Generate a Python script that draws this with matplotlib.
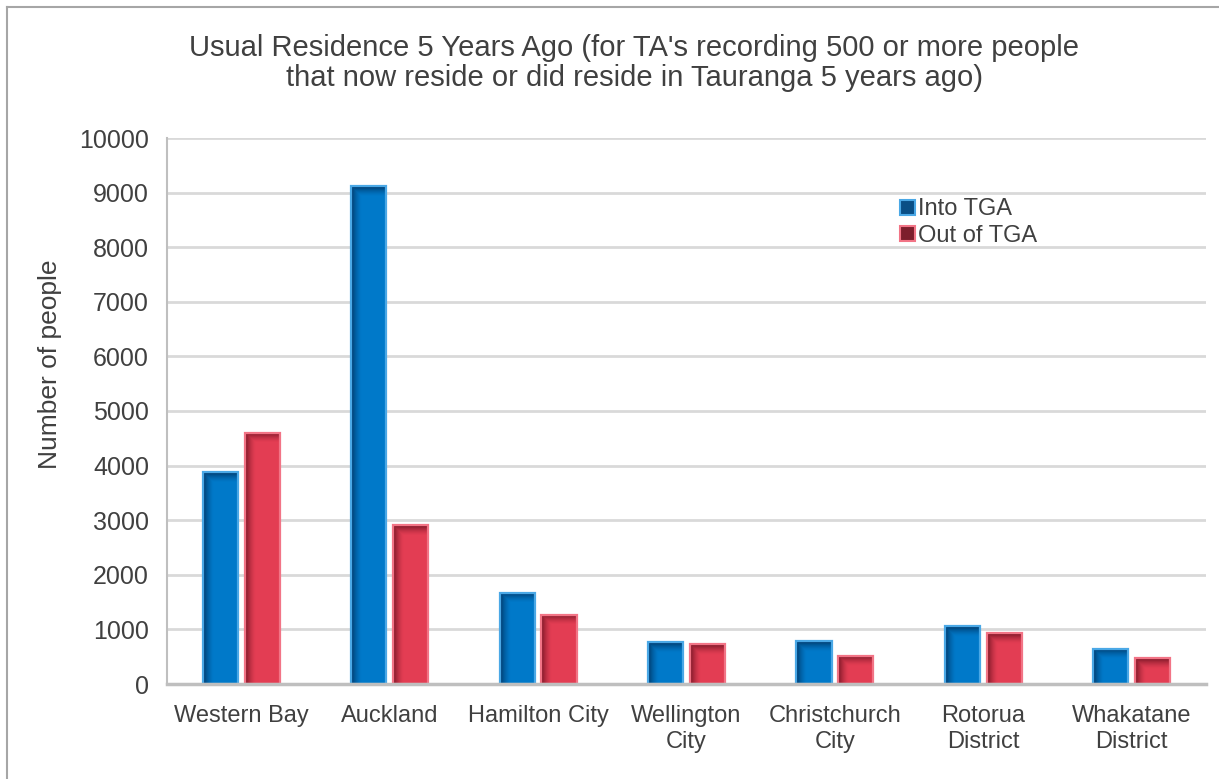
import numpy as np
import matplotlib
matplotlib.use('Agg')
import matplotlib.pyplot as plt
from matplotlib.patches import Rectangle
from matplotlib.lines import Line2D

plt.rcParams['font.family'] = ['Liberation Sans', 'DejaVu Sans']

# data
categories = ['Western Bay', 'Auckland', 'Hamilton City', 'Wellington\nCity',
              'Christchurch\nCity', 'Rotorua\nDistrict', 'Whakatane\nDistrict']
into_tga = [3880, 9120, 1670, 765, 780, 1060, 650]
out_of_tga = [4600, 2905, 1265, 725, 520, 925, 475]
series_names = ['Into TGA', 'Out of TGA']
yticks = [0, 1000, 2000, 3000, 4000, 5000, 6000, 7000, 8000, 9000, 10000]

TEXT = '#404040'
BLUE, BLUE_EDGE, BLUE_DARK = '#0079C9', '#4AA8E6', (0.0, 0.18, 0.35)
RED, RED_EDGE, RED_DARK = '#E33D53', '#F27486', (0.40, 0.06, 0.12)

W, H = 1219, 779
fig = plt.figure(figsize=(W / 100, H / 100), dpi=100)
ax = fig.add_axes([167 / W, 1 - 684 / H, (1206 - 167) / W, (684 - 138) / H])


def shade_bar(ax, rect, dark):
    """Excel-like bevel: dark fade at top and left edge of the bar"""
    x0, y0 = rect.get_x(), rect.get_y()
    w, h = rect.get_width(), rect.get_height()
    p0 = ax.transData.transform((x0, y0))
    p1 = ax.transData.transform((x0 + w, y0 + h))
    nx = max(int(p1[0] - p0[0]), 2)
    ny = max(int(p1[1] - p0[1]), 2)
    left = np.clip(1 - np.arange(nx) / 10.0, 0, 1) ** 1.5
    top = np.clip(1 - np.arange(ny) / 10.0, 0, 1) ** 1.5
    alpha = np.maximum(left[None, :], top[:, None]) * 0.8
    img = np.zeros((ny, nx, 4))
    img[..., :3] = dark
    img[..., 3] = alpha
    ax.imshow(img, extent=(x0, x0 + w, y0, y0 + h), origin='upper',
              aspect='auto', interpolation='bilinear', zorder=3)


x = np.arange(len(categories))
bw = 0.236
off = 0.141

ax.set_xlim(-0.5, len(categories) - 0.5)
ax.set_ylim(0, 10000)

bars_in = ax.bar(x - off, into_tga, bw, color=BLUE, zorder=2, linewidth=0)
bars_out = ax.bar(x + off, out_of_tga, bw, color=RED, zorder=2, linewidth=0)
for r in bars_in:
    shade_bar(ax, r, BLUE_DARK)
for r in bars_out:
    shade_bar(ax, r, RED_DARK)
ax.bar(x - off, into_tga, bw, fill=False, edgecolor=BLUE_EDGE, linewidth=1.6, zorder=4)
ax.bar(x + off, out_of_tga, bw, fill=False, edgecolor=RED_EDGE, linewidth=1.6, zorder=4)

ax.set_xlim(-0.5, len(categories) - 0.5)
ax.set_ylim(0, 10000)

# axes styling
ax.set_yticks(yticks)
ax.set_yticklabels([str(v) for v in yticks])
ax.yaxis.grid(True, color='#D9D9D9', linewidth=2)
ax.set_axisbelow(True)
ax.set_xticks(x)
ax.set_xticklabels(categories, linespacing=1.25)
ax.tick_params(axis='y', length=0, pad=13, labelsize=18, labelcolor=TEXT)
ax.tick_params(axis='x', length=0, pad=15, labelsize=17, labelcolor=TEXT)
for s in ['top', 'right']:
    ax.spines[s].set_visible(False)
ax.spines['left'].set_color('#BFBFBF')
ax.spines['left'].set_linewidth(1.5)
ax.spines['bottom'].set_color('#BFBFBF')
ax.spines['bottom'].set_linewidth(2.5)
ax.spines['bottom'].set_zorder(5)

fig.text(50 / W, 1 - 364 / H, 'Number of people', rotation=90,
         ha='center', va='center', fontsize=19, color=TEXT)

fig.text(634 / W, 1 - 63 / H,
         "Usual Residence 5 Years Ago (for TA's recording 500 or more people\n"
         "that now reside or did reside in Tauranga 5 years ago)",
         ha='center', va='center', fontsize=21, color=TEXT, linespacing=1.1)

# legend
handles = [Rectangle((0, 0), 1, 1, facecolor='#0A4F86', edgecolor=BLUE_EDGE, linewidth=1.5),
           Rectangle((0, 0), 1, 1, facecolor='#7D1E2C', edgecolor=RED_EDGE, linewidth=1.5)]
fig.legend(handles, series_names, loc='upper left',
           bbox_to_anchor=(891 / W, 1 - 189 / H), frameon=False, fontsize=17,
           handlelength=0.6, handleheight=0.6, handletextpad=0.15,
           labelspacing=0.2, labelcolor=TEXT, borderaxespad=0)

# chart area border (top and left visible)
fig.add_artist(Line2D([7 / W, 1], [1 - 7 / H, 1 - 7 / H], color='#A6A6A6', linewidth=1.5))
fig.add_artist(Line2D([7 / W, 7 / W], [0, 1 - 7 / H], color='#A6A6A6', linewidth=1.5))

fig.savefig('out.png', dpi=100, facecolor='white')
